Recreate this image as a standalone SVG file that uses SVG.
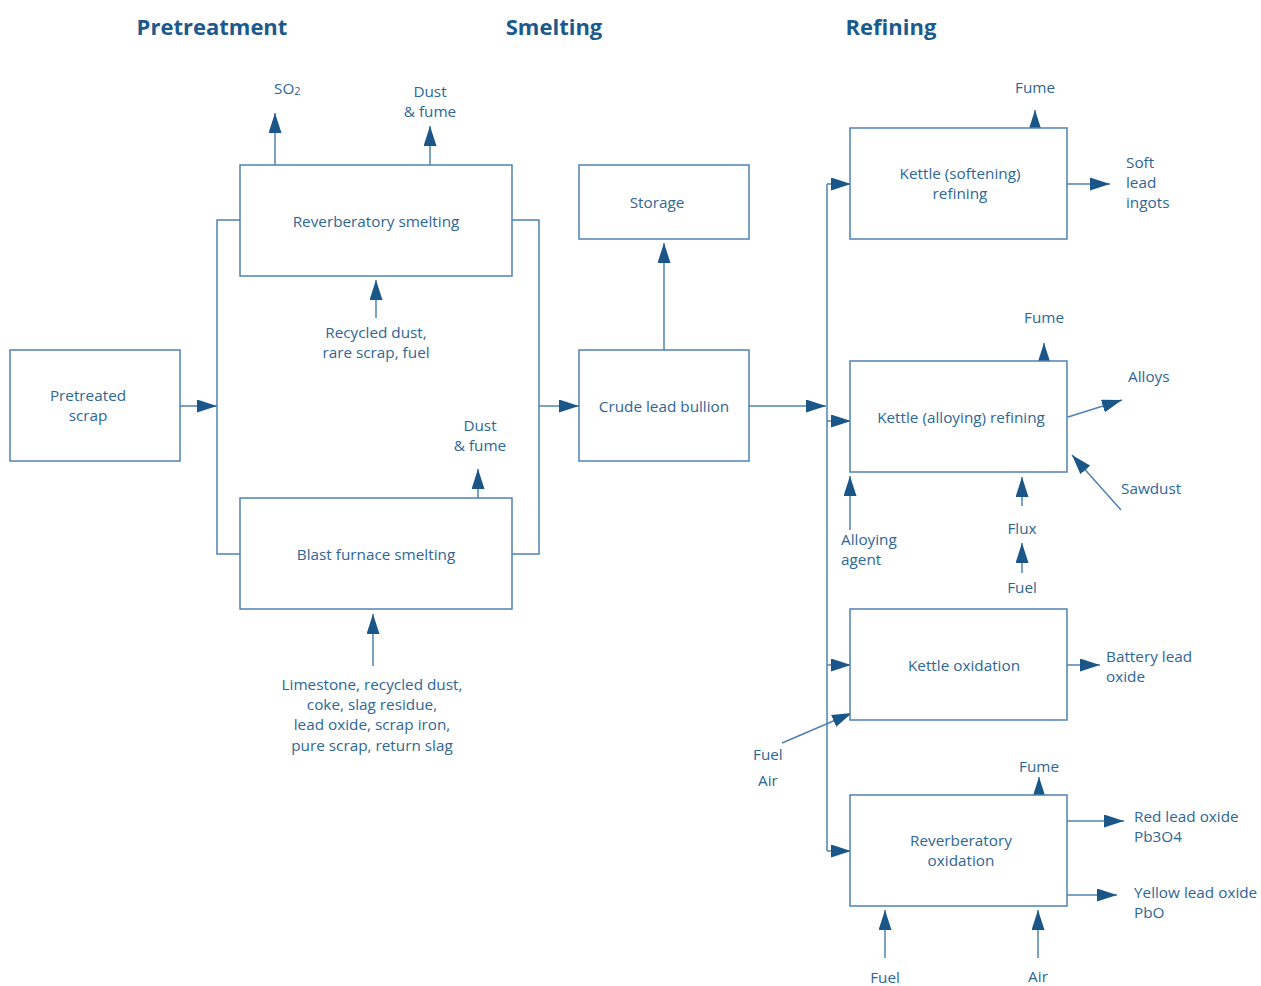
<svg xmlns="http://www.w3.org/2000/svg" width="1261" height="986" viewBox="0 0 1261 986">
  <style>
    .box { fill: #ffffff; stroke: #4f82b2; stroke-width: 1.5; }
    .ln { fill: none; stroke: #4f82b2; stroke-width: 1.5; }
    .arr { fill: none; stroke: #4f82b2; stroke-width: 1.5; marker-end: url(#tip); }
    text { font-family: "Open Sans", "Noto Sans", sans-serif; font-size: 15.3px; fill: #2e6696; }
    .c { text-anchor: middle; }
    .hd { font-weight: bold; font-size: 22px; fill: #1c5a8e; text-anchor: middle; }
  </style>
  <defs>
    <marker id="tip" markerUnits="userSpaceOnUse" markerWidth="20" markerHeight="14" refX="20" refY="6.5" orient="auto">
      <path d="M0,0 L20,6.5 L0,13 z" fill="#1b5689"/>
    </marker>
  </defs>
  <rect width="1261" height="986" fill="#ffffff"/>

  <!-- stage headings -->
  <text class="hd" x="212" y="35">Pretreatment</text>
  <text class="hd" x="554" y="35">Smelting</text>
  <text class="hd" x="891" y="35">Refining</text>

  <!-- connectors -->
  <g id="connectors">
    <!-- pretreated scrap into the smelting split -->
    <path class="arr" d="M180,406 H217"/>
    <path class="ln" d="M240,220 H217 V554 H240"/>
    <path class="ln" d="M512,220 H539 V554 H512"/>
    <path class="arr" d="M539,406 H579"/>
    <!-- reverberatory smelting off-gases and feed -->
    <path class="arr" d="M275,165 V113"/>
    <path class="arr" d="M430,165 V126"/>
    <path class="arr" d="M376,318 V280"/>
    <!-- blast furnace off-gas and feed -->
    <path class="arr" d="M478,498 V469"/>
    <path class="arr" d="M373,666 V614"/>
    <!-- bullion to storage and refining -->
    <path class="arr" d="M664,350 V243"/>
    <path class="arr" d="M749,406 H826"/>
    <path class="ln" d="M827,184 V851"/>
    <path class="arr" d="M827,184 H851"/>
    <path class="arr" d="M827,421 H851"/>
    <path class="arr" d="M827,665 H851"/>
    <path class="arr" d="M827,851 H851"/>
    <!-- kettle softening -->
    <path class="arr" d="M1035,128 V110"/>
    <path class="arr" d="M1067,184 H1110"/>
    <!-- kettle alloying -->
    <path class="arr" d="M1044,361 V343"/>
    <path class="arr" d="M1068,417 L1122,400"/>
    <path class="arr" d="M1121,510 L1072,455"/>
    <path class="arr" d="M850,530 V476"/>
    <path class="arr" d="M1022,506 V477"/>
    <path class="arr" d="M1022,573 V543"/>
    <!-- kettle oxidation -->
    <path class="arr" d="M1067,665 H1100"/>
    <path class="arr" d="M782,743 L852,713"/>
    <!-- reverberatory oxidation -->
    <path class="arr" d="M1039,795 V777"/>
    <path class="arr" d="M1067,821 H1124"/>
    <path class="arr" d="M1067,895 H1117"/>
    <path class="arr" d="M885,958 V910"/>
    <path class="arr" d="M1038,958 V910"/>
  </g>

  <!-- nodes -->
  <g id="pretreated-scrap">
    <rect class="box" x="10" y="350" width="170" height="111"/>
    <text class="c" x="88" y="401">Pretreated</text>
    <text class="c" x="88" y="421">scrap</text>
  </g>
  <g id="reverberatory-smelting">
    <rect class="box" x="240" y="165" width="272" height="111"/>
    <text class="c" x="376" y="227">Reverberatory smelting</text>
  </g>
  <g id="blast-furnace-smelting">
    <rect class="box" x="240" y="498" width="272" height="111"/>
    <text class="c" x="376" y="560">Blast furnace smelting</text>
  </g>
  <g id="storage">
    <rect class="box" x="579" y="165" width="170" height="74"/>
    <text class="c" x="657" y="208">Storage</text>
  </g>
  <g id="crude-lead-bullion">
    <rect class="box" x="579" y="350" width="170" height="111"/>
    <text class="c" x="664" y="412">Crude lead bullion</text>
  </g>
  <g id="kettle-softening">
    <rect class="box" x="850" y="128" width="217" height="111"/>
    <text class="c" x="960" y="179">Kettle (softening)</text>
    <text class="c" x="960" y="199">refining</text>
  </g>
  <g id="kettle-alloying">
    <rect class="box" x="850" y="361" width="217" height="111"/>
    <text class="c" x="961" y="423">Kettle (alloying) refining</text>
  </g>
  <g id="kettle-oxidation">
    <rect class="box" x="850" y="609" width="217" height="111"/>
    <text class="c" x="964" y="671">Kettle oxidation</text>
  </g>
  <g id="reverberatory-oxidation">
    <rect class="box" x="850" y="795" width="217" height="111"/>
    <text class="c" x="961" y="846">Reverberatory</text>
    <text class="c" x="961" y="866">oxidation</text>
  </g>

  <!-- stream labels -->
  <g id="labels">
    <text x="274" y="94">SO<tspan font-size="11" dy="1">2</tspan></text>
    <text class="c" x="430" y="97">Dust</text>
    <text class="c" x="430" y="117">&amp; fume</text>
    <text class="c" x="376" y="338">Recycled dust,</text>
    <text class="c" x="376" y="358">rare scrap, fuel</text>
    <text class="c" x="480" y="431">Dust</text>
    <text class="c" x="480" y="451">&amp; fume</text>
    <text class="c" x="372" y="690">Limestone, recycled dust,</text>
    <text class="c" x="372" y="710">coke, slag residue,</text>
    <text class="c" x="372" y="730">lead oxide, scrap iron,</text>
    <text class="c" x="372" y="751">pure scrap, return slag</text>
    <text class="c" x="1035" y="93">Fume</text>
    <text x="1126" y="168">Soft</text>
    <text x="1126" y="188">lead</text>
    <text x="1126" y="208">ingots</text>
    <text class="c" x="1044" y="323">Fume</text>
    <text x="1128" y="382">Alloys</text>
    <text x="1121" y="494">Sawdust</text>
    <text x="841" y="545">Alloying</text>
    <text x="841" y="565">agent</text>
    <text class="c" x="1022" y="534">Flux</text>
    <text class="c" x="1022" y="593">Fuel</text>
    <text x="1106" y="662">Battery lead</text>
    <text x="1106" y="682">oxide</text>
    <text x="753" y="760">Fuel</text>
    <text x="758" y="786">Air</text>
    <text class="c" x="1039" y="772">Fume</text>
    <text x="1134" y="822">Red lead oxide</text>
    <text x="1134" y="842">Pb3O4</text>
    <text x="1134" y="898">Yellow lead oxide</text>
    <text x="1134" y="918">PbO</text>
    <text class="c" x="885" y="983">Fuel</text>
    <text class="c" x="1038" y="982">Air</text>
  </g>
</svg>
